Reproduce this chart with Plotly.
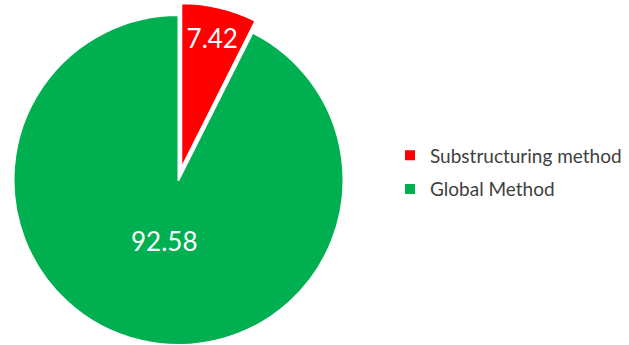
import math
import plotly.graph_objects as go

# Share of computation per method (%)
labels = ["Substructuring method", "Global Method"]
values = [7.42, 92.58]
colors = ["#FF0000", "#00B050"]

W, H = 629, 345
CX, CY, R = 178.5, 180.0, 165.0   # pie centre and radius in px
EXPLODE = 12.0                    # px the first slice is pulled out
LABEL_RADIUS = 0.38               # radial position of the big slice's label (fraction of R)
CLEAR = "rgba(0,0,0,0)"
FONT = "Lato"
LABEL_FONT = dict(family=FONT, size=26, color="white")


def pie_domain(cx, cy):
    return dict(
        x=[max(0.0, (cx - R) / W), min(1.0, (cx + R) / W)],
        y=[max(0.0, (H - cy - R) / H), min(1.0, (H - cy + R) / H)],
    )


total = sum(values)
# mid angle of each slice, clockwise from 12 o'clock
mids, acc = [], 0.0
for v in values:
    mids.append(2 * math.pi * (acc + v / 2) / total)
    acc += v

# the first slice is pulled out along its mid angle
off_x, off_y = EXPLODE * math.sin(mids[0]), EXPLODE * math.cos(mids[0])


def slice_trace(idx, cx, cy, outline_all, show_text):
    """Full pie where only slice `idx` is painted."""
    return go.Pie(
        labels=labels,
        values=values,
        sort=False,
        direction="clockwise",
        rotation=0,
        marker=dict(
            colors=[c if i == idx else CLEAR for i, c in enumerate(colors)],
            line=dict(
                color="white",
                width=[2 if (outline_all or i == idx) else 0 for i in range(len(values))],
            ),
        ),
        text=[f"{v:.2f}" if (i == idx and show_text) else "" for i, v in enumerate(values)],
        textinfo="text",
        textposition="inside",
        insidetextorientation="horizontal",
        textfont=LABEL_FONT,
        domain=pie_domain(cx, cy),
        showlegend=False,
        hoverinfo="skip",
    )


fig = go.Figure()
fig.add_trace(slice_trace(1, CX, CY, True, False))
fig.add_trace(slice_trace(0, CX + off_x, CY - off_y, False, True))

# value label of the large slice, placed along its mid angle
lx = CX + LABEL_RADIUS * R * math.sin(mids[1])
ly = CY - LABEL_RADIUS * R * math.cos(mids[1])
fig.add_annotation(
    x=lx / W, y=1 - ly / H, xref="paper", yref="paper",
    text=f"{values[1]:.2f}", showarrow=False,
    xanchor="center", yanchor="middle",
    font=LABEL_FONT,
)

# legend entries (vanishingly small pies, one group per category)
for i, (lab, val, col) in enumerate(zip(labels, values, colors)):
    fig.add_trace(go.Pie(
        labels=[lab],
        values=[val],
        marker=dict(colors=[col], line=dict(color="white", width=2)),
        textinfo="none",
        domain=dict(x=[0.9995, 1.0], y=[0.0, 0.0005]),
        legendgroup=f"g{i}",
        showlegend=True,
        hoverinfo="skip",
    ))

fig.update_layout(
    width=W,
    height=H,
    margin=dict(l=0, r=0, t=0, b=0),
    paper_bgcolor="white",
    plot_bgcolor="white",
    showlegend=True,
    legend=dict(
        x=390 / W,
        y=1 - 172.5 / H,
        xanchor="left",
        yanchor="middle",
        traceorder="grouped",
        tracegroupgap=6,
        font=dict(family=FONT, size=19, color="#404040"),
        bgcolor="rgba(0,0,0,0)",
    ),
)

fig.write_html("out.html")
